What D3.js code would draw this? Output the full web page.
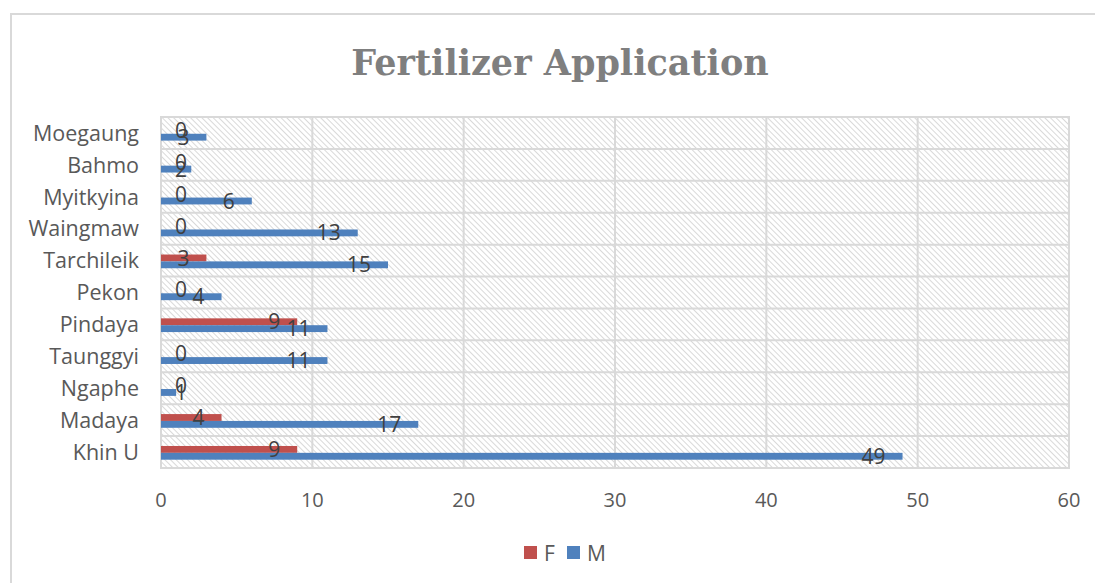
<!DOCTYPE html>
<html><head><meta charset="utf-8">
<script src="https://cdn.jsdelivr.net/npm/d3@7"></script>
<style>body{margin:0;background:#fff;}svg{display:block;}</style>
</head><body>
<script>
const categories = ["Khin U","Madaya","Ngaphe","Taunggyi","Pindaya","Pekon","Tarchileik","Waingmaw","Myitkyina","Bahmo","Moegaung"];
const seriesNames = ["F","M"];
const valuesF = [9,4,0,0,9,0,3,0,0,0,0];
const valuesM = [49,17,1,11,11,4,15,13,6,2,3];
const xTicks = [0,10,20,30,40,50,60];
const colors = {F:"#C0504D", M:"#4F81BD"};
const title = "Fertilizer Application";

const W = 1095, H = 583;
const svg = d3.select("body").append("svg").attr("width", W).attr("height", H);
const defs = svg.append("defs");
const pat = defs.append("pattern").attr("id","hatch").attr("patternUnits","userSpaceOnUse")
  .attr("width",4).attr("height",4).attr("patternTransform","rotate(45)");
pat.append("rect").attr("width",4).attr("height",4).attr("fill","#fff");
pat.append("line").attr("x1",0).attr("y1",0).attr("x2",4).attr("y2",0)
  .attr("stroke","#d2d2d2").attr("stroke-width",1.7);

// outer chart border
svg.append("path").attr("d",`M11,${H+5} L11,14 L${W+5},14`).attr("fill","none")
  .attr("stroke","#d9d9d9").attr("stroke-width",2);

const L = 161, R = 1069, T = 117, B = 468;
const x = d3.scaleLinear().domain([0,60]).range([L,R]);
const y = d3.scaleBand().domain(categories).range([B,T]).padding(0);
const bw = y.bandwidth();
const ySub = d3.scaleBand().domain(seriesNames).range([bw*0.31, bw*0.74]).padding(0);

svg.append("rect").attr("x",L).attr("y",T).attr("width",R-L).attr("height",B-T).attr("fill","url(#hatch)");

// grid
const g = svg.append("g");
g.selectAll(".vg").data(xTicks).join("line")
  .attr("x1",d=>x(d)).attr("x2",d=>x(d)).attr("y1",T).attr("y2",B)
  .attr("stroke","#d9d9d9").attr("stroke-width",2);
const bounds = categories.map(c=>y(c)).concat([B]);
g.selectAll(".hg").data(bounds).join("line")
  .attr("x1",L-1).attr("x2",R+1).attr("y1",d=>d).attr("y2",d=>d)
  .attr("stroke","#d9d9d9").attr("stroke-width",2);

// bars
const rows = categories.map((c,i)=>({cat:c, F:valuesF[i], M:valuesM[i]}));
const bars = svg.append("g");
seriesNames.forEach(s=>{
  bars.selectAll(".b"+s).data(rows).join("rect")
    .attr("x",x(0)).attr("y",d=>y(d.cat)+ySub(s))
    .attr("width",d=>x(d[s])-x(0)).attr("height",ySub.bandwidth())
    .attr("fill",colors[s]);
});
// labels
const labs = svg.append("g").attr("font-family","'Open Sans', sans-serif").attr("font-size",21).attr("fill","#404040");
seriesNames.forEach(s=>{
  labs.selectAll(".l"+s).data(rows).join("text")
    .attr("x",d=>Math.max(x(d[s])-17, x(0)+26))
    .attr("y",d=>y(d.cat)+ySub(s)+ySub.bandwidth()/2)
    .attr("dy","0.36em").attr("text-anchor","end").text(d=>d[s]);
});

// axes
const ax = svg.append("g").attr("font-family","'Open Sans', sans-serif").attr("font-size",20).attr("fill","#595959");
ax.selectAll(".xt").data(xTicks).join("text")
  .attr("x",d=>x(d)).attr("y",507).attr("text-anchor","middle").text(d=>d);
ax.selectAll(".yt").data(categories).join("text")
  .attr("x",139).attr("y",d=>y(d)+bw/2).attr("dy","0.36em").attr("text-anchor","end")
  .attr("font-size",21.5).text(d=>d);

// title
svg.append("text").attr("x",560).attr("y",75).attr("text-anchor","middle")
  .attr("font-family","'DejaVu Serif', serif").attr("font-weight","bold").attr("font-size",35)
  .attr("fill","#7f7f7f").text(title);

// legend
const lg = svg.append("g").attr("font-family","'Open Sans', sans-serif").attr("font-size",21).attr("fill","#595959");
const legX = {F:524, M:567};
seriesNames.forEach(s=>{
  lg.append("rect").attr("x",legX[s]).attr("y",546).attr("width",13).attr("height",13).attr("fill",colors[s]);
  lg.append("text").attr("x",legX[s]+20).attr("y",553).attr("dy","0.36em").text(s);
});
</script>
</body></html>
